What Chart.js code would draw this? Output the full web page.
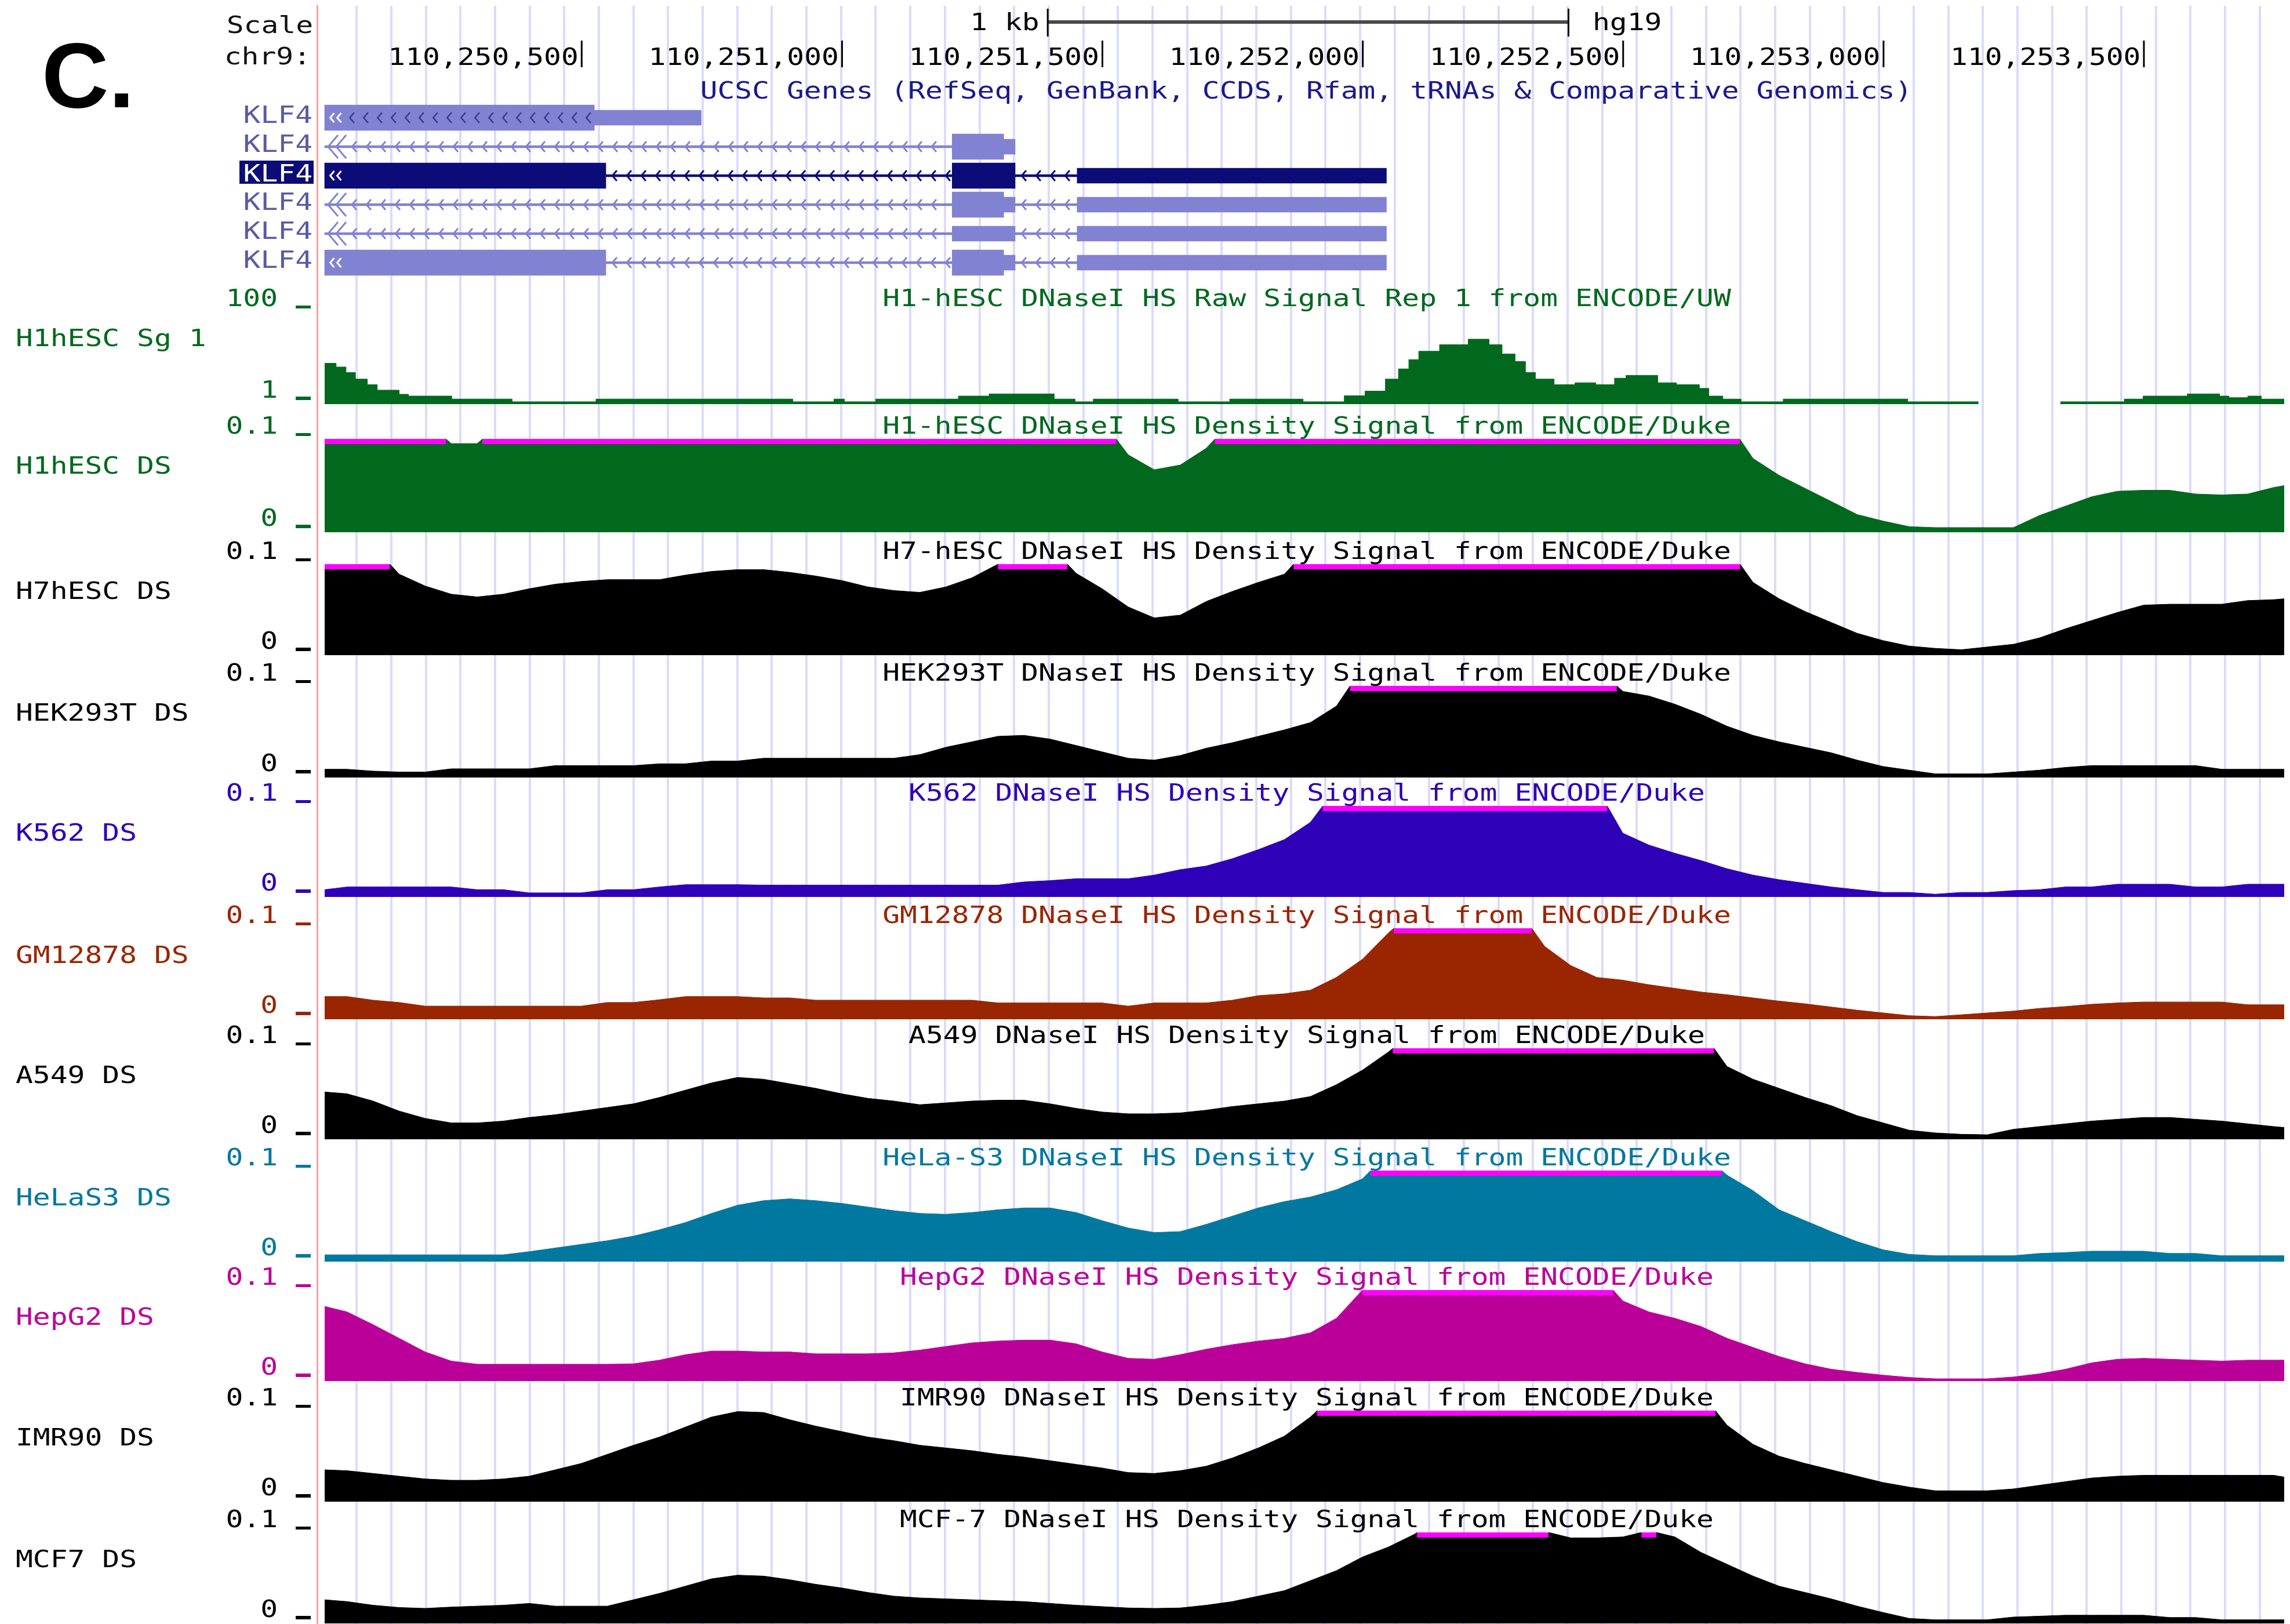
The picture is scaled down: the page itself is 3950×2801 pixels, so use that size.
<!DOCTYPE html>
<html>
<head>
<meta charset="utf-8">
<script src="https://cdn.jsdelivr.net/npm/chart.js@4.4.1/dist/chart.umd.min.js"></script>
<style>
html,body{margin:0;padding:0;background:#fff;}
#page{position:relative;width:3950px;height:2801px;overflow:hidden;background:#fff;}
#page canvas{position:absolute;left:0;}
</style>
</head>
<body>
<div id="page"></div>
<script>
// ---- data ----
const X_START = 110250007, X_END = 110253770;
const rulerTicks = [110250500,110251000,110251500,110252000,110252500,110253000,110253500];
const scaleBar = [110251395, 110252395];

// 50 bp sample grid shared by the density tracks
const positions = [110250007,
  110250050,110250100,110250150,110250200,110250250,110250300,110250350,110250400,110250450,110250500,
  110250550,110250600,110250650,110250700,110250750,110250800,110250850,110250900,110250950,110251000,
  110251050,110251100,110251150,110251200,110251250,110251300,110251350,110251400,110251450,110251500,
  110251550,110251600,110251650,110251700,110251750,110251800,110251850,110251900,110251950,110252000,
  110252050,110252100,110252150,110252200,110252250,110252300,110252350,110252400,110252450,110252500,
  110252550,110252600,110252650,110252700,110252750,110252800,110252850,110252900,110252950,110253000,
  110253050,110253100,110253150,110253200,110253250,110253300,110253350,110253400,110253450,110253500,
  110253550,110253600,110253650,110253700,110253750,
  110253770];

const h1hescDS = [0.12,0.12,0.12,0.12,0.12,0.095,0.095,0.12,0.12,0.12,
  0.12,0.12,0.12,0.12,0.12,0.12,0.12,0.12,0.12,0.12,
  0.12,0.12,0.12,0.12,0.12,0.12,0.12,0.12,0.12,0.12,
  0.12,0.083,0.067,0.072,0.090,0.12,0.12,0.12,0.12,0.12,
  0.12,0.12,0.12,0.12,0.12,0.12,0.12,0.12,0.12,0.12,
  0.12,0.12,0.12,0.12,0.12,0.079,0.061,0.047,0.033,0.019,
  0.012,0.006,0.005,0.005,0.005,0.005,0.018,0.028,0.038,0.044,
  0.045,0.045,0.041,0.040,0.041,0.048,0.050];
const h7DS = [0.12,0.12,0.12,0.089,0.076,0.067,0.064,0.067,0.073,0.078,
  0.081,0.083,0.083,0.083,0.088,0.092,0.094,0.094,0.091,0.087,
  0.082,0.075,0.071,0.069,0.075,0.085,0.100,0.12,0.12,0.090,
  0.073,0.053,0.041,0.044,0.059,0.070,0.080,0.089,0.12,0.12,
  0.12,0.12,0.12,0.12,0.12,0.12,0.12,0.12,0.12,0.12,
  0.12,0.12,0.12,0.12,0.12,0.080,0.062,0.048,0.036,0.024,
  0.016,0.010,0.0075,0.006,0.009,0.012,0.019,0.029,0.038,0.047,
  0.055,0.056,0.056,0.056,0.060,0.061,0.062];
const hek293tDS = [0.009,0.009,0.007,0.006,0.006,0.0095,0.0095,0.0095,0.0095,0.013,
  0.013,0.013,0.013,0.015,0.015,0.018,0.018,0.021,0.021,0.021,
  0.021,0.021,0.021,0.025,0.033,0.039,0.045,0.046,0.042,0.035,
  0.028,0.021,0.019,0.024,0.032,0.038,0.045,0.052,0.060,0.078,
  0.12,0.12,0.12,0.12,0.12,0.12,0.12,0.12,0.12,0.12,
  0.094,0.089,0.080,0.069,0.056,0.046,0.039,0.033,0.027,0.019,
  0.012,0.008,0.004,0.004,0.004,0.006,0.008,0.011,0.013,0.013,
  0.013,0.013,0.013,0.009,0.009,0.009,0.009];
const k562DS = [0.008,0.011,0.011,0.011,0.011,0.011,0.008,0.008,0.0045,0.0045,
  0.0045,0.008,0.008,0.011,0.0135,0.0135,0.0135,0.013,0.013,0.013,
  0.013,0.013,0.013,0.013,0.013,0.013,0.013,0.0165,0.018,0.020,
  0.020,0.020,0.024,0.030,0.034,0.042,0.052,0.063,0.082,0.12,
  0.12,0.12,0.12,0.12,0.12,0.12,0.12,0.12,0.12,0.12,
  0.070,0.057,0.048,0.040,0.031,0.024,0.019,0.015,0.011,0.008,
  0.005,0.005,0.003,0.005,0.005,0.007,0.008,0.011,0.011,0.014,
  0.014,0.014,0.011,0.011,0.014,0.014,0.014];
const gm12878DS = [0.025,0.025,0.021,0.0185,0.0145,0.0145,0.0145,0.0145,0.0145,0.0145,
  0.0145,0.0185,0.0185,0.0215,0.025,0.025,0.025,0.0235,0.0235,0.021,
  0.021,0.021,0.021,0.021,0.021,0.021,0.018,0.018,0.018,0.018,
  0.018,0.0145,0.018,0.018,0.018,0.021,0.026,0.028,0.032,0.046,
  0.066,0.095,0.12,0.12,0.12,0.12,0.12,0.080,0.059,0.046,
  0.043,0.038,0.034,0.030,0.027,0.0235,0.020,0.017,0.0135,0.010,
  0.007,0.004,0.003,0.005,0.007,0.009,0.012,0.014,0.0165,0.018,
  0.019,0.019,0.019,0.019,0.016,0.016,0.016];
const a549DS = [0.052,0.050,0.042,0.031,0.023,0.018,0.018,0.020,0.024,0.027,
  0.031,0.035,0.039,0.046,0.054,0.062,0.068,0.066,0.061,0.056,
  0.050,0.045,0.042,0.038,0.040,0.042,0.043,0.043,0.039,0.034,
  0.030,0.028,0.028,0.029,0.032,0.036,0.039,0.042,0.047,0.060,
  0.076,0.096,0.12,0.12,0.12,0.12,0.12,0.12,0.12,0.12,
  0.12,0.12,0.12,0.12,0.080,0.066,0.056,0.046,0.037,0.026,
  0.018,0.010,0.007,0.0055,0.005,0.011,0.014,0.017,0.020,0.022,
  0.024,0.024,0.022,0.020,0.017,0.014,0.013];
const helaDS = [0.0075,0.0075,0.0075,0.0075,0.0075,0.0075,0.0075,0.0075,0.011,0.015,
  0.019,0.023,0.028,0.035,0.043,0.053,0.062,0.067,0.069,0.067,
  0.064,0.060,0.056,0.053,0.052,0.054,0.057,0.059,0.059,0.054,
  0.045,0.037,0.032,0.033,0.041,0.050,0.059,0.066,0.071,0.079,
  0.091,0.12,0.12,0.12,0.12,0.12,0.12,0.12,0.12,0.12,
  0.12,0.12,0.12,0.12,0.095,0.078,0.057,0.045,0.033,0.022,
  0.013,0.008,0.0065,0.0065,0.0065,0.0065,0.009,0.010,0.0115,0.0115,
  0.0115,0.009,0.009,0.0065,0.0065,0.0065,0.0065];
const hepg2DS = [0.082,0.076,0.062,0.047,0.032,0.022,0.0185,0.0185,0.0185,0.0185,
  0.0185,0.0185,0.019,0.023,0.029,0.033,0.033,0.032,0.032,0.030,
  0.030,0.030,0.031,0.034,0.038,0.042,0.044,0.045,0.045,0.041,
  0.032,0.025,0.024,0.029,0.035,0.040,0.044,0.047,0.053,0.069,
  0.100,0.12,0.12,0.12,0.12,0.12,0.12,0.12,0.12,0.12,
  0.088,0.076,0.069,0.060,0.047,0.037,0.027,0.019,0.013,0.0095,
  0.0065,0.004,0.0025,0.0025,0.0025,0.0045,0.008,0.013,0.020,0.024,
  0.025,0.024,0.023,0.022,0.023,0.023,0.023];
const imr90DS = [0.035,0.034,0.031,0.028,0.025,0.0235,0.0235,0.025,0.028,0.035,
  0.042,0.052,0.062,0.071,0.082,0.093,0.099,0.098,0.090,0.083,
  0.077,0.071,0.067,0.062,0.059,0.056,0.052,0.049,0.045,0.041,
  0.037,0.032,0.031,0.034,0.039,0.048,0.059,0.072,0.093,0.12,
  0.12,0.12,0.12,0.12,0.12,0.12,0.12,0.12,0.12,0.12,
  0.12,0.12,0.12,0.12,0.084,0.063,0.050,0.042,0.035,0.028,
  0.021,0.016,0.012,0.012,0.012,0.014,0.018,0.022,0.026,0.028,
  0.029,0.029,0.029,0.029,0.029,0.029,0.027];
const mcf7DS = [0.026,0.024,0.020,0.0175,0.0165,0.018,0.019,0.020,0.022,0.019,
  0.019,0.019,0.026,0.033,0.041,0.049,0.053,0.052,0.048,0.043,
  0.039,0.034,0.030,0.028,0.027,0.026,0.025,0.024,0.022,0.020,
  0.0185,0.017,0.0165,0.017,0.020,0.024,0.030,0.036,0.047,0.058,
  0.073,0.084,0.098,0.12,0.12,0.12,0.12,0.101,0.094,0.094,
  0.095,0.102,0.095,0.078,0.065,0.052,0.041,0.034,0.027,0.019,
  0.012,0.0055,0.004,0.004,0.004,0.007,0.008,0.009,0.009,0.009,
  0.009,0.0065,0.0065,0.004,0.004,0.004,0.004];

// raw signal: step breakpoints (value holds until the next position)
const rawPositions = [110250007,110250029,110250048,110250066,110250089,110250108,110250150,110250168,110250251,110250367,
  110250528,110250906,110250985,110251005,110251065,110251224,110251283,110251408,110251448,110251483,
  110251646,110251745,110251886,110251965,110252005,110252044,110252069,110252089,110252108,110252148,
  110252203,110252243,110252268,110252293,110252313,110252332,110252368,110252408,110252448,110252484,
  110252506,110252567,110252603,110252647,110252665,110252692,110252727,110252808,110253047,110253183,
  110253260,110253340,110253463,110253499,110253584,110253646,110253664,110253700,110253726,110253770];
const h1hescRaw = [44.6,40.6,34.7,27.7,21.8,15.9,11.5,9.6,6.4,3.5,
  6.4,3.5,6.4,3.5,6.4,9.6,11.9,6.4,3.5,6.4,
  3.5,6.4,3.5,9.9,14.9,27.7,38.6,48.5,57.4,64.4,
  70.3,64.4,54.5,46.5,34.7,27.7,21.8,23.8,21.8,28.7,
  31.7,23.8,21.8,17.8,9.6,6.4,3.5,6.4,3.5,3.5,
  null,3.5,6.4,9.6,11.9,9.6,7.9,9.6,6.4,6.4];

// gene models: [row, start, end]
const geneRows = ['KLF4','KLF4','KLF4','KLF4','KLF4','KLF4'];
const selectedRow = 2;
const cdsBlocks = [[0,110250007,110250525],[1,110251212,110251311],[2,110250007,110250547],[2,110251212,110251333],
  [3,110251212,110251311],[5,110250007,110250547],[5,110251212,110251311]];
const utrBlocks = [[0,110250525,110250730],[1,110251311,110251333],[2,110251452,110252046],[3,110251311,110251333],
  [3,110251452,110252046],[4,110251212,110251333],[4,110251452,110252046],[5,110251311,110251333],[5,110251452,110252046]];
const intronSpans = [[1,110250007,110251212],[2,110250547,110251212],[2,110251333,110251452],[3,110250007,110251212],
  [3,110251333,110251452],[4,110250007,110251212],[4,110251333,110251452],[5,110250547,110251212],[5,110251333,110251452]];

// ---- layout / style ----
const W = 3950, H = 2801, AREA_L = 547, AREA_R = 3940;
const VIEW_MIN = X_START - (560 - AREA_L) * (X_END - X_START) / (AREA_R - 560), VIEW_MAX = X_END;
const MONO = '"DejaVu Sans Mono", monospace';
const SX = 1.21;
const GREEN = '#00691d', NAVY = '#0c0c78', LIGHT = '#8282d2', MAGENTA = '#ff00ff';

const tracks = [
  {label:'H1hESC Sg 1', title:'H1-hESC DNaseI HS Raw Signal Rep 1 from ENCODE/UW', color:GREEN, top:537, bottom:697, min:1, max:100, ticks:['100','1'], pos:rawPositions, vals:h1hescRaw, stepped:true},
  {label:'H1hESC DS', title:'H1-hESC DNaseI HS Density Signal from ENCODE/Duke', color:GREEN, top:757, bottom:918, vals:h1hescDS},
  {label:'H7hESC DS', title:'H7-hESC DNaseI HS Density Signal from ENCODE/Duke', color:'#000000', top:973, bottom:1130, vals:h7DS},
  {label:'HEK293T DS', title:'HEK293T DNaseI HS Density Signal from ENCODE/Duke', color:'#000000', top:1183, bottom:1341, vals:hek293tDS},
  {label:'K562 DS', title:'K562 DNaseI HS Density Signal from ENCODE/Duke', color:'#2e00b8', top:1390, bottom:1547, vals:k562DS},
  {label:'GM12878 DS', title:'GM12878 DNaseI HS Density Signal from ENCODE/Duke', color:'#992600', top:1601, bottom:1758, vals:gm12878DS},
  {label:'A549 DS', title:'A549 DNaseI HS Density Signal from ENCODE/Duke', color:'#000000', top:1808, bottom:1965, vals:a549DS},
  {label:'HeLaS3 DS', title:'HeLa-S3 DNaseI HS Density Signal from ENCODE/Duke', color:'#00789f', top:2019, bottom:2176, vals:helaDS},
  {label:'HepG2 DS', title:'HepG2 DNaseI HS Density Signal from ENCODE/Duke', color:'#bb0099', top:2225, bottom:2382, vals:hepg2DS},
  {label:'IMR90 DS', title:'IMR90 DNaseI HS Density Signal from ENCODE/Duke', color:'#000000', top:2433, bottom:2590, vals:imr90DS},
  {label:'MCF7 DS', title:'MCF-7 DNaseI HS Density Signal from ENCODE/Duke', color:'#000000', top:2643, bottom:2800, vals:mcf7DS}
];

function drawText(ctx, s, x, y, color, align, opt){
  opt = opt || {};
  const sx = opt.sx || SX;
  ctx.save();
  ctx.font = (opt.weight || 'normal') + ' ' + (opt.size || 41) + 'px ' + (opt.family || MONO);
  ctx.fillStyle = color; ctx.textAlign = 'left'; ctx.textBaseline = 'alphabetic';
  const w = ctx.measureText(s).width * sx;
  const left = align === 'right' ? x - w : align === 'center' ? x - w / 2 : x;
  ctx.translate(left, y); ctx.scale(sx, 1);
  ctx.fillText(s, 0, 0);
  ctx.restore();
}
function chevron(ctx, px, yc, h){
  ctx.beginPath(); ctx.moveTo(px + h * 0.55, yc - h); ctx.lineTo(px - h * 0.3, yc); ctx.lineTo(px + h * 0.55, yc + h); ctx.stroke();
}
function addCanvas(top, height){
  const c = document.createElement('canvas');
  c.width = W; c.height = height; c.style.top = top + 'px';
  document.getElementById('page').appendChild(c);
  return c;
}
const base = {responsive:false, animation:false, devicePixelRatio:1, events:[],
  plugins:{legend:{display:false}, tooltip:{enabled:false}}};

// ---- background: guide lines, red edge line, ruler ----
const gridTicks = [];
for (let v = X_START + 61.6; v < X_END; v += 66.44) gridTicks.push(v);

const rulerDecor = {
  id:'rulerDecor',
  afterDraw(chart){
    const {ctx, scales:{x}} = chart;
    drawText(ctx, 'C.', 72, 185, '#000', 'left', {family:'"Liberation Sans", Arial, sans-serif', weight:'bold', size:160, sx:1});
    drawText(ctx, 'Scale', 540, 57, '#111', 'right');
    drawText(ctx, 'chr9:', 536, 111, '#111', 'right');
    ctx.fillStyle = '#000';
    rulerTicks.forEach(v => {
      const px = x.getPixelForValue(v);
      drawText(ctx, v.toLocaleString('en-US'), px - 5, 112, '#000', 'right');
      ctx.fillRect(px - 1, 70, 3, 46);
    });
    const a = x.getPixelForValue(scaleBar[0]), b = x.getPixelForValue(scaleBar[1]);
    ctx.fillStyle = '#4a4a4a'; ctx.fillRect(a, 35, b - a, 6);
    ctx.fillStyle = '#000'; ctx.fillRect(a - 1, 15, 3, 48); ctx.fillRect(b - 1, 15, 3, 48);
    drawText(ctx, '1 kb', a - 14, 52, '#000', 'right');
    drawText(ctx, 'hg19', b + 42, 52, '#000', 'left');
  }
};
new Chart(addCanvas(0, H), {
  type:'scatter', data:{datasets:[]},
  options:Object.assign({}, base, {
    layout:{padding:{left:AREA_L, right:W - AREA_R, top:10, bottom:0}},
    scales:{
      x:{type:'linear', min:VIEW_MIN, max:VIEW_MAX, ticks:{display:false}, border:{display:false},
         grid:{color:'#dcdcfa', lineWidth:4, drawTicks:false},
         afterBuildTicks: s => { s.ticks = gridTicks.map(v => ({value:v})); },
         afterFit: s => { s.height = 0; }},
      y:{min:0, max:1, ticks:{display:false}, grid:{display:false, drawTicks:false},
         border:{display:true, color:'#f2a4a4', width:3}, afterFit: s => { s.width = 0; }}
    }
  }),
  plugins:[rulerDecor]
});

// ---- gene track ----
const rowColor = r => r === selectedRow ? NAVY : LIGHT;
const geneDecor = {
  id:'geneDecor',
  afterDatasetsDraw(chart){
    const {ctx, scales:{x, y}} = chart;
    ctx.save(); ctx.lineWidth = 3; ctx.lineJoin = 'miter';
    intronSpans.forEach(([r, s, e]) => {
      const yc = y.getPixelForValue(r), x1 = x.getPixelForValue(e);
      ctx.strokeStyle = rowColor(r);
      for (let px = x.getPixelForValue(s) + (s === X_START ? 50 : 14); px < x1 - 8; px += 25) chevron(ctx, px, yc, 9);
      if (s === X_START) { const x0 = x.getPixelForValue(s); chevron(ctx, x0 + 12, yc, 20); chevron(ctx, x0 + 26, yc, 20); }
    });
    cdsBlocks.forEach(([r, s, e]) => {
      if (s !== X_START) return;
      const yc = y.getPixelForValue(r), x0 = x.getPixelForValue(s);
      ctx.strokeStyle = '#ffffff';
      chevron(ctx, x0 + 12, yc, 8); chevron(ctx, x0 + 24, yc, 8);
      if (!intronSpans.some(t => t[0] === r)) {
        ctx.strokeStyle = '#3a3a8c'; ctx.lineWidth = 2.5;
        for (let px = x0 + 46; px < x.getPixelForValue(e) - 6; px += 24) chevron(ctx, px, yc, 9);
        ctx.lineWidth = 3;
      }
    });
    ctx.restore();
  },
  afterDraw(chart){
    const {ctx, chartArea:a, scales:{x, y}} = chart;
    drawText(ctx, 'UCSC Genes (RefSeq, GenBank, CCDS, Rfam, tRNAs & Comparative Genomics)',
      (x.getPixelForValue(X_START) + a.right) / 2 + 3, a.top - 8, '#1a1a8c', 'center');
    geneRows.forEach((name, r) => {
      const yc = y.getPixelForValue(r);
      if (r === selectedRow) {
        ctx.fillStyle = NAVY; ctx.fillRect(413, yc - 26, 128, 40);
        drawText(ctx, name, 539, yc + 10, '#ffffff', 'right');
      } else {
        drawText(ctx, name, 539, yc + 9, '#5a5aa6', 'right');
      }
    });
  }
};
const toBars = list => list.map(([r, s, e]) => ({y:r, x:[s, e]}));
const barStyle = {grouped:false, borderWidth:0, borderSkipped:false, backgroundColor: c => rowColor(c.raw.y)};
new Chart(addCanvas(120, 370), {
  type:'bar',
  data:{datasets:[
    Object.assign({data:toBars(intronSpans), barThickness:4}, barStyle),
    Object.assign({data:toBars(utrBlocks), barThickness:26}, barStyle),
    Object.assign({data:toBars(cdsBlocks), barThickness:44}, barStyle)
  ]},
  options:Object.assign({}, base, {
    indexAxis:'y',
    layout:{padding:{left:AREA_L, right:W - AREA_R, top:58, bottom:12}},
    scales:{
      x:{type:'linear', min:VIEW_MIN, max:VIEW_MAX, display:false},
      y:{type:'linear', min:-0.5, max:geneRows.length - 0.5, reverse:true, offset:false, grace:0, display:false}
    }
  }),
  plugins:[geneDecor]
});

// ---- signal tracks ----
const trackText = {
  id:'trackText',
  afterDraw(chart, args, o){
    const {ctx, chartArea:a, scales:{x}} = chart;
    drawText(ctx, o.title, (x.getPixelForValue(X_START) + a.right) / 2 + 4, a.top - 9, o.color, 'center');
    drawText(ctx, o.label, 27, a.top + 60, o.color, 'left');
    drawText(ctx, o.ticks[0], 479, a.top - 9, o.color, 'right');
    drawText(ctx, o.ticks[1], 479, a.bottom - 11, o.color, 'right');
    ctx.fillStyle = o.color;
    ctx.fillRect(510, a.top - 10, 26, 5);
    ctx.fillRect(510, a.bottom - 13, 26, 6);
  }
};
// runs where the signal goes past the top of the view, with the run ends
// placed where the plotted line crosses the maximum
function clippedRuns(pos, vals, max, level){
  const out = [];
  pos.forEach((p, i) => {
    if (i > 0) {
      const pv = vals[i - 1], v = vals[i];
      if (pv !== null && v !== null && (pv >= max) !== (v >= max)) {
        out.push({x:pos[i - 1] + (max - pv) / (v - pv) * (p - pos[i - 1]), y:level});
      }
    }
    out.push({x:p, y:vals[i] >= max ? level : null});
  });
  return out;
}
tracks.forEach(t => {
  const min = t.min !== undefined ? t.min : 0, max = t.max !== undefined ? t.max : 0.1;
  const pos = t.pos || positions;
  const pts = pos.map((p, i) => ({x:p, y:t.vals[i]}));
  const datasets = [{data:pts, order:1, fill:'start', backgroundColor:t.color, borderColor:t.color, borderWidth:1,
    pointRadius:0, tension:0, stepped:!!t.stepped, spanGaps:false}];
  if (!t.stepped) {
    const h = t.bottom - t.top;
    datasets.push({data:clippedRuns(pos, t.vals, max, max * (1 - 4.5 / h)), order:0, fill:false,
      borderColor:MAGENTA, borderWidth:9, borderCapStyle:'butt', pointRadius:0,
      spanGaps:false, tension:0, clip:false});
  }
  new Chart(addCanvas(t.top - 60, t.bottom - t.top + 66), {
    type:'line',
    data:{datasets},
    options:Object.assign({}, base, {
      layout:{padding:{left:AREA_L, right:W - AREA_R, top:60, bottom:6}},
      plugins:{legend:{display:false}, tooltip:{enabled:false},
        trackText:{title:t.title, label:t.label, color:t.color, ticks:t.ticks || ['0.1', '0']}},
      scales:{
        x:{type:'linear', min:VIEW_MIN, max:VIEW_MAX, display:false},
        y:{min, max, display:false}
      }
    }),
    plugins:[trackText]
  });
});
</script>
</body>
</html>
